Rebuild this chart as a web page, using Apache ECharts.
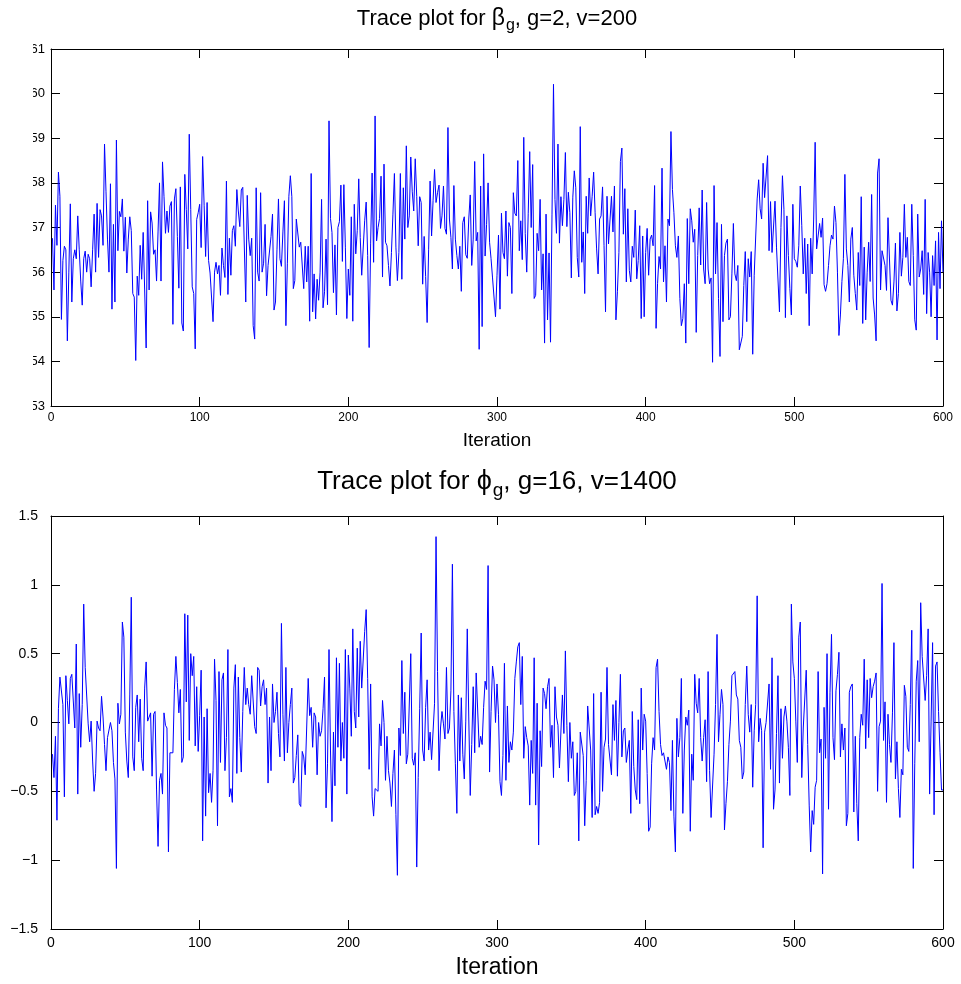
<!DOCTYPE html>
<html>
<head>
<meta charset="utf-8">
<script src="https://cdn.jsdelivr.net/npm/echarts@6/dist/echarts.min.js"></script>
<style>
  html, body { margin: 0; padding: 0; background: #fff; }
  #chart { width: 961px; height: 984px; }
</style>
</head>
<body>
<div id="chart"></div>
<script>
// MCMC trace of beta_g (g=2, v=200), iterations 1..600
const betaTrace = [
  56.76, 55.6, 57.5, 56.6, 58.24, 57.7, 54.94, 56.26, 56.58, 56.5,
  54.46, 56.0, 57.53, 55.33, 56.3, 56.5, 56.3, 57.26, 56.5, 55.8,
  55.26, 56.3, 56.47, 56.0, 56.4, 56.3, 55.67, 56.5, 57.3, 56.0,
  57.54, 56.33, 57.4, 57.26, 56.6, 58.87, 57.8, 56.74, 56.0, 57.98,
  55.17, 57.07, 55.33, 58.96, 56.48, 57.36, 57.24, 57.64, 56.47, 57.23,
  55.98, 56.74, 57.24, 56.93, 55.52, 55.44, 54.02, 55.91, 55.48, 56.6,
  55.84, 56.89, 55.6, 54.3, 57.6, 55.6, 57.35, 57.1, 56.4, 56.5,
  55.8, 56.9, 58.0, 55.8, 58.47, 57.7, 56.87, 57.37, 56.89, 57.48,
  57.58, 54.83, 57.64, 57.87, 56.8, 55.64, 57.91, 54.86, 54.68, 58.19,
  57.4, 56.52, 59.09, 57.4, 55.67, 55.52, 54.28, 57.18, 57.33, 57.52,
  56.55, 58.59, 57.5, 56.35, 57.56, 56.26, 55.98, 55.98, 54.89, 56.0,
  56.22, 55.96, 56.15, 55.48, 56.54, 56.15, 55.88, 58.04, 55.5, 56.76,

  55.93, 56.93, 57.04, 56.58, 57.85, 57.37, 57.02, 57.84, 57.9, 57.89,
  55.33, 57.72, 56.74, 56.37, 56.76, 54.8, 54.5, 57.89, 56.0, 55.8,
  57.78, 56.0, 56.2, 57.07, 55.47, 56.15, 56.19, 56.8, 57.3, 55.15,
  55.33, 56.5, 57.64, 56.3, 56.13, 56.9, 57.6, 54.8, 56.2, 57.7,
  58.16, 57.69, 55.63, 55.81, 57.19, 57.19, 56.56, 56.67, 56.65, 55.63,
  56.58, 55.78, 56.58, 54.9, 58.21, 55.11, 55.96, 54.95, 55.84, 55.37,
  56.0, 57.63, 55.2, 55.56, 56.74, 55.27, 59.39, 57.2, 56.89, 55.54,
  56.61, 55.04, 57.0, 57.13, 57.95, 56.24, 57.96, 56.56, 54.96, 56.07,
  55.48, 57.24, 54.9, 57.52, 56.41, 56.93, 58.09, 56.78, 55.93, 55.93,
  57.15, 57.57, 56.37, 54.31, 56.65, 58.22, 56.22, 59.5, 56.7, 57.0,
  57.2, 58.15, 55.89, 58.42, 56.67, 56.59, 56.15, 55.69, 56.44, 57.3,
  58.21, 56.56, 55.81, 56.44, 58.21, 55.84, 57.89, 56.74, 58.83, 57.0,

  57.26, 58.58, 57.8, 57.37, 58.54, 57.7, 56.59, 57.69, 57.56, 55.73,
  56.8, 55.9, 54.87, 56.5, 58.04, 56.81, 57.6, 58.3, 57.56, 57.78,
  57.95, 56.98, 57.26, 57.93, 56.98, 56.85, 59.24, 57.19, 56.78, 56.07,
  57.94, 56.74, 56.37, 56.07, 56.58, 55.57, 57.11, 57.24, 56.39, 56.31,
  57.19, 57.73, 56.15, 56.74, 58.48, 56.7, 56.89, 54.27, 57.93, 54.78,
  58.65, 56.36, 57.07, 58.0, 56.67, 56.3, 55.87, 55.85, 55.0, 55.93,
  56.83, 55.17, 57.32, 56.44, 56.3, 57.37, 55.91, 57.11, 57.0, 55.52,
  57.78, 57.32, 57.26, 58.5, 56.48, 57.15, 56.28, 59.02, 56.87, 56.0,
  57.32, 58.7, 57.0, 58.41, 55.41, 55.48, 56.87, 56.48, 57.63, 55.6,
  56.41, 54.41, 57.3, 54.93, 56.43, 54.43, 57.3, 60.21, 57.63, 56.87,
  58.87, 56.65, 57.69, 57.04, 57.63, 58.68, 57.02, 57.79, 57.33, 55.87,
  57.68, 58.27, 57.89, 56.33, 55.89, 59.26, 56.22, 56.9, 55.52, 57.7,

  56.87, 58.11, 57.26, 57.7, 58.24, 57.33, 56.52, 55.96, 57.19, 57.26,
  57.91, 56.59, 55.11, 57.7, 56.63, 56.59, 57.7, 56.9, 57.93, 54.93,
  55.56, 56.44, 58.48, 58.78, 56.85, 57.87, 55.78, 57.42, 56.04, 55.78,
  56.58, 56.33, 57.39, 55.85, 56.26, 57.04, 54.96, 56.81, 55.0, 56.44,
  56.98, 55.93, 56.74, 56.83, 56.59, 57.94, 54.74, 55.74, 56.35, 56.07,
  58.33, 55.78, 56.59, 55.33, 57.19, 57.04, 59.15, 57.85, 57.33, 56.59,
  56.33, 56.81, 55.41, 54.8, 54.96, 55.74, 54.41, 57.2, 55.74, 57.42,
  57.15, 56.67, 56.96, 54.65, 56.37, 57.44, 56.16, 57.84, 56.07, 55.74,
  57.56, 56.07, 55.74, 55.87, 53.98, 57.94, 55.96, 57.11, 55.41, 54.11,
  57.07, 54.89, 56.37, 56.65, 56.74, 54.93, 55.0, 55.96, 57.09, 55.96,
  55.81, 56.15, 54.26, 54.22, 54.56, 55.7, 56.46, 54.89, 56.3, 55.89,
  56.46, 54.16, 55.93, 55.94, 57.64, 58.07, 57.42, 57.19, 58.44, 57.67,

  57.67, 58.61, 56.48, 57.58, 56.44, 56.44, 57.59, 56.56, 56.59, 55.11,
  57.0, 58.16, 57.41, 54.98, 57.26, 56.37, 55.63, 55.04, 57.52, 56.3,
  56.24, 56.11, 56.59, 57.93, 57.04, 55.96, 56.76, 55.52, 56.63, 54.8,
  56.76, 55.96, 57.19, 58.91, 56.52, 56.81, 57.09, 56.78, 57.21, 55.72,
  55.57, 55.74, 56.15, 56.59, 56.83, 56.74, 57.48, 57.11, 56.0, 54.58,
  55.04, 55.79, 56.3, 58.19, 56.52, 56.15, 55.33, 56.74, 57.0, 55.93,
  55.52, 55.15, 56.44, 55.7, 57.69, 54.85, 56.56, 54.93, 56.0, 56.67,
  55.79, 57.74, 55.42, 55.04, 54.46, 58.22, 58.54, 55.6, 56.48, 56.52,
  56.15, 55.59, 57.22, 57.26, 55.37, 55.26, 55.78, 56.65, 55.13, 55.52,
  56.89, 55.91, 56.33, 57.52, 56.33, 56.78, 55.79, 55.7, 57.52, 56.37,
  54.93, 54.7, 57.3, 55.89, 56.07, 56.48, 55.5, 57.63, 55.07, 56.44,
  56.0, 55.0, 56.37, 55.7, 56.7, 54.48, 56.89, 55.63, 57.15, 56.0
];

// MCMC trace of phi_g (g=16, v=1400), iterations 1..600
const phiTrace = [
  -0.23, -0.4, -0.1, -0.71, 0.1, 0.33, 0.32, 0.13, -0.54, 0.34,
  0.16, -0.01, 0.32, 0.35, 0.34, -0.04, 0.57, -0.52, 0.21, -0.18,
  0.13, 0.86, 0.4, 0.4, -0.01, -0.14, 0.01, -0.28, -0.5, -0.37,
  0.01, -0.04, -0.06, 0.19, 0.04, -0.16, -0.35, -0.11, -0.11, 0.0,
  -0.06, -0.29, -0.41, -1.06, 0.14, -0.01, 0.06, 0.73, 0.62, -0.07,
  -0.28, -0.4, 0.2, 0.91, -0.25, -0.35, 0.11, 0.2, -0.14, 0.17,
  -0.26, -0.35, 0.25, 0.44, 0.01, 0.0, 0.07, -0.39, 0.06, 0.08,
  -0.49, -0.9, -0.42, -0.37, -0.52, 0.07, -0.02, -0.04, -0.94, -0.22,
  -0.21, -0.22, 0.24, 0.48, 0.29, 0.07, 0.24, -0.29, -0.25, 0.79,
  0.15, 0.78, -0.13, 0.5, 0.34, 0.48, -0.17, 0.26, -0.21, 0.05,
  0.38, -0.86, 0.04, -0.68, 0.1, -0.51, -0.37, -0.58, -0.35, 0.46,
  0.16, -0.75, 0.37, -0.29, 0.31, 0.36, -0.35, -0.11, 0.53, -0.54,

  -0.48, -0.58, 0.25, 0.42, -0.37, 0.33, -0.11, -0.36, 0.08, 0.4,
  0.13, 0.25, 0.13, 0.06, 0.34, 0.34, -0.03, -0.08, 0.4, 0.38,
  0.12, 0.26, 0.31, 0.13, 0.25, -0.44, 0.04, -0.35, 0.28, 0.0,
  0.08, 0.22, -0.08, -0.25, 0.72, 0.06, -0.28, 0.4, -0.22, 0.0,
  0.13, 0.25, -0.44, -0.4, -0.24, -0.09, -0.59, -0.61, -0.21, -0.25,
  -0.38, -0.39, 0.32, 0.05, 0.11, -0.18, 0.07, 0.04, -0.38, 0.0,
  -0.1, -0.06, 0.1, 0.33, -0.62, -0.3, 0.53, -0.2, -0.72, -0.07,
  -0.46, 0.47, -0.18, 0.43, -0.28, 0.0, -0.26, 0.53, -0.52, 0.49,
  0.25, -0.1, 0.68, 0.08, -0.04, 0.54, 0.04, 0.59, 0.25, 0.25,
  0.66, 0.82, 0.32, -0.34, 0.28, -0.54, -0.68, -0.48, -0.49, -0.5,
  -0.01, -0.17, 0.16, 0.0, -0.42, -0.1, -0.35, -0.44, -0.61, -0.37,
  -0.2, -0.67, -1.11, -0.04, -0.24, 0.45, -0.08, 0.22, -0.3, -0.23,

  -0.23, 0.5, -0.26, -0.31, -0.22, -1.05, -0.4, 0.1, 0.65, -0.2,
  -0.28, 0.11, 0.31, -0.2, -0.07, -0.27, -0.26, 0.14, 1.35, 0.37,
  -0.35, -0.04, 0.08, -0.01, -0.12, 0.4, -0.08, -0.04, 0.23, 1.15,
  0.08, -0.3, -0.66, 0.2, -0.28, 0.18, -0.23, -0.41, 0.01, 0.68,
  0.04, -0.53, -0.16, 0.26, -0.22, 0.36, 0.35, -0.18, -0.1, -0.16,
  0.11, 0.3, 0.24, 1.14, -0.36, 0.08, 0.41, 0.31, 0.0, 0.28,
  0.06, -0.43, -0.53, -0.24, 0.43, -0.42, 0.12, -0.29, -0.14, -0.2,
  -0.07, 0.32, 0.44, 0.55, 0.58, 0.13, 0.48, -0.26, -0.03, -0.11,
  -0.17, -0.6, -0.13, -0.37, 0.47, -0.6, 0.14, -0.89, -0.06, -0.32,
  0.25, 0.21, 0.1, 0.26, 0.32, -0.18, -0.02, -0.4, 0.26, 0.04,
  -0.02, -0.33, -0.34, 0.2, -0.08, 0.52, -0.02, -0.43, 0.0, -0.26,
  -0.14, -0.53, -0.5, -0.22, -0.86, -0.07, -0.07, -0.24, -0.75, -0.42,

  0.12, 0.12, -0.2, -0.69, 0.21, -0.67, -0.61, -0.66, -0.58, 0.22,
  -0.5, -0.18, -0.12, 0.4, -0.16, -0.17, -0.38, 0.13, -0.13, 0.16,
  -0.39, 0.0, 0.35, -0.25, -0.06, -0.04, -0.29, -0.2, -0.13, -0.66,
  0.08, -0.32, -0.49, -0.56, 0.02, -0.59, 0.25, -0.2, 0.06, 0.01,
  -0.37, -0.79, -0.76, -0.3, -0.11, -0.2, 0.4, 0.46, 0.08, -0.16,
  -0.24, -0.22, -0.28, -0.34, -0.25, -0.29, -0.64, -0.13, -0.68, -0.94,
  0.03, -0.25, -0.11, 0.32, -0.66, -0.2, 0.04, -0.02, 0.09, -0.79,
  -0.23, -0.42, 0.35, 0.14, 0.07, 0.32, -0.11, -0.28, -0.11, 0.02,
  -0.43, 0.37, -0.35, -0.69, -0.68, -0.23, 0.13, 0.64, -0.14, 0.06,
  0.24, 0.13, -0.78, -0.59, -0.43, -0.16, 0.01, 0.34, 0.35, 0.37,
  0.2, 0.17, -0.13, -0.18, -0.41, -0.36, 0.13, 0.41, 0.06, -0.07,
  0.13, -0.47, -0.06, 0.13, 0.92, -0.14, 0.03, -0.06, -0.91, -0.07,

  0.0, 0.0, 0.28, -0.34, 0.47, -0.63, -0.49, -0.08, 0.34, -0.44,
  0.1, -0.26, 0.04, 0.12, 0.01, -0.18, -0.53, 0.86, 0.44, 0.32,
  0.01, -0.29, 0.62, 0.73, -0.4, -0.04, -0.03, 0.38, -0.16, -0.6,
  -0.94, -0.64, -0.74, -0.47, -0.42, 0.37, -0.22, -0.12, -1.1, 0.11,
  -0.26, 0.5, -0.63, 0.22, 0.64, -0.11, -0.27, 0.23, 0.35, 0.51,
  -0.25, -0.01, -0.2, -0.04, -0.75, -0.66, 0.22, 0.26, 0.28, -0.65,
  -0.1, -0.59, -0.86, -0.11, 0.06, -0.02, 0.46, -0.19, 0.31, -0.11,
  0.32, 0.18, 0.26, 0.3, 0.36, -0.5, -0.03, 0.01, 1.01, -0.13,
  0.15, -0.58, 0.06, -0.16, -0.29, 0.07, 0.58, -0.41, -0.14, -0.48,
  -0.69, -0.34, -0.38, 0.27, 0.19, -0.18, -0.21, 0.13, 0.67, -1.06,
  -0.3, 0.3, 0.45, -0.14, 0.87, 0.48, 0.49, 0.16, 0.34, 0.68,
  -0.52, 0.01, 0.58, -0.67, 0.41, 0.44, 0.08, -0.22, -0.49, -0.49
];

// axis ranges and tick steps
const iterRange = [0, 600];
const iterStep = 100;
const betaRange = [53, 61];
const betaStep = 1;
const phiRange = [-1.5, 1.5];
const phiStep = 0.5;

const FONT = '"Liberation Sans", Arial, Helvetica, sans-serif';
const LINE_BLUE = '#0000ff';

function toPoints(values) {
  return values.map((v, i) => [i + 1, v]);
}

function minusLabel(v) {
  return v < 0 ? '\u2212' + Math.abs(v) : String(v);
}

// boxed frame: primary axes carry labels, mirrored axes only carry inward ticks
function frameX(gridIndex, position, labelled, fontSize, nameSize, nameGap, margin) {
  return {
    gridIndex, type: 'value', position,
    min: iterRange[0], max: iterRange[1], interval: iterStep,
    axisLine: { show: true, onZero: false, lineStyle: { color: '#000', width: 1 } },
    axisTick: { show: true, inside: true, length: 9, lineStyle: { color: '#000', width: 1 } },
    axisLabel: { show: labelled, color: '#000', fontSize, fontFamily: FONT, margin },
    splitLine: { show: false },
    name: labelled ? 'Iteration' : '',
    nameLocation: 'middle', nameGap,
    nameTextStyle: { color: '#000', fontSize: nameSize, fontFamily: FONT }
  };
}

function frameY(gridIndex, position, labelled, range, step, fontSize, margin, fmt) {
  return {
    gridIndex, type: 'value', position,
    min: range[0], max: range[1], interval: step,
    axisLine: { show: true, onZero: false, lineStyle: { color: '#000', width: 1 } },
    axisTick: { show: true, inside: true, length: 9, lineStyle: { color: '#000', width: 1 } },
    axisLabel: { show: labelled, color: '#000', fontSize, fontFamily: FONT, margin, formatter: fmt },
    splitLine: { show: false }
  };
}

function titleRich(mainSize, greekSize, subSize, subDrop) {
  const base = { fontFamily: FONT, color: '#000', fontWeight: 'normal' };
  return {
    a: Object.assign({ fontSize: mainSize }, base),
    b: Object.assign({ fontSize: greekSize }, base),
    s: Object.assign({ fontSize: subSize, padding: [subDrop, 0, 0, 1] }, base)
  };
}

const chart = echarts.init(document.getElementById('chart'), null, { renderer: 'canvas' });

chart.setOption({
  backgroundColor: '#fff',
  animation: false,
  title: [
    {
      text: '{a|Trace plot for }{b|\u03b2}{s|g}{a|, g=2, v=200}',
      left: 497, top: 4, textAlign: 'center', padding: 0,
      textStyle: { fontWeight: 'normal', rich: titleRich(22, 23, 16, 14) }
    },
    {
      text: '{a|Trace plot for }{b|\u03d5}{s|g}{a|, g=16, v=1400}',
      left: 497, top: 464, textAlign: 'center', padding: 0,
      textStyle: { fontWeight: 'normal', rich: titleRich(26, 27, 19, 17) }
    }
  ],
  grid: [
    { left: 51, right: 18, top: 49, height: 357 },
    { left: 51, right: 18, top: 516, height: 413 }
  ],
  xAxis: [
    frameX(0, 'bottom', true, 12, 19, 25, 6),
    frameX(0, 'top', false, 12, 19, 25, 6),
    frameX(1, 'bottom', true, 14, 23, 27, 7),
    frameX(1, 'top', false, 14, 23, 27, 7)
  ],
  yAxis: [
    frameY(0, 'left', true, betaRange, betaStep, 13, 6, v => String(v)),
    frameY(0, 'right', false, betaRange, betaStep, 13, 6, v => String(v)),
    frameY(1, 'left', true, phiRange, phiStep, 14, 13, minusLabel),
    frameY(1, 'right', false, phiRange, phiStep, 14, 13, minusLabel)
  ],
  series: [
    {
      type: 'line', xAxisIndex: 0, yAxisIndex: 0,
      data: toPoints(betaTrace),
      symbol: 'none', silent: true,
      lineStyle: { color: LINE_BLUE, width: 1 },
      itemStyle: { color: LINE_BLUE }
    },
    {
      type: 'line', xAxisIndex: 2, yAxisIndex: 2,
      data: toPoints(phiTrace),
      symbol: 'none', silent: true,
      lineStyle: { color: LINE_BLUE, width: 1 },
      itemStyle: { color: LINE_BLUE }
    }
  ],
  // the upper panel's tick labels are trimmed at the left edge of the figure
  graphic: [
    {
      type: 'rect', z: 100, silent: true,
      shape: { x: 0, y: 40, width: 33, height: 375 },
      style: { fill: '#fff' }
    }
  ]
});
</script>
</body>
</html>
